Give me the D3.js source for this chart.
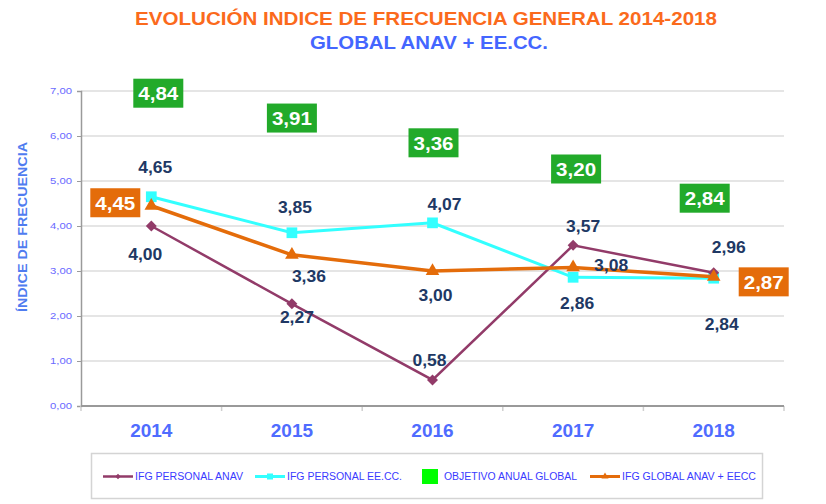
<!DOCTYPE html>
<html>
<head>
<meta charset="utf-8">
<script src="https://cdn.jsdelivr.net/npm/d3@7"></script>
<style>
  html, body { margin: 0; padding: 0; background: #fff; }
  svg { display: block; font-family: "Liberation Sans", Arial, sans-serif; }
</style>
</head>
<body>
<svg id="chart" width="826" height="504"></svg>
<script>
// ── Data ────────────────────────────────────────────────────────────────
const years      = ['2014', '2015', '2016', '2017', '2018'];
const anav       = [4.00, 2.27, 0.58, 3.57, 2.96];   // IFG PERSONAL ANAV
const eecc       = [4.65, 3.85, 4.07, 2.86, 2.84];   // IFG PERSONAL EE.CC.
const objetivo   = [4.84, 3.91, 3.36, 3.20, 2.84];   // OBJETIVO ANUAL GLOBAL
const global     = [4.45, 3.36, 3.00, 3.08, 2.87];   // IFG GLOBAL ANAV + EECC
const yTicks     = [0, 1, 2, 3, 4, 5, 6, 7];
const legendNames = ['IFG PERSONAL ANAV', 'IFG PERSONAL EE.CC.', 'OBJETIVO ANUAL GLOBAL', 'IFG GLOBAL ANAV + EECC'];

// label placement (px offsets from the point); boxed = label drawn in a filled box
const anavLbl    = [[-6, 28], [5, 13], [-3, -20], [10, -19], [15, -26]];
const eeccLbl    = [[4, -30], [3, -26], [12, -19], [4, 26], [8, 46]];
const globalLbl  = [[-36, -3], [17, 21], [3, 24], [38, -2], [50, 5]];
const globalBox  = [true, false, false, false, true];
const objLbl     = [[7, -95], [0, -112], [1, -112], [3, -93], [-9, -80]];

const fmt = v => v.toFixed(2).replace('.', ',');

const svg = d3.select('#chart');
const x = d3.scaleBand().domain(years).range([81, 784]);
const y = d3.scaleLinear().domain([0, 7]).range([406, 91]);
const cx = d => x(d) + x.bandwidth() / 2;

// ── Titles ──────────────────────────────────────────────────────────────
svg.append('text').attr('x', 426).attr('y', 25).attr('text-anchor', 'middle')
  .attr('font-size', 19).attr('font-weight', 'bold').attr('fill', '#fb6a1c')
  .attr('textLength', 582).attr('lengthAdjust', 'spacingAndGlyphs')
  .text('EVOLUCIÓN INDICE DE FRECUENCIA GENERAL 2014-2018');
svg.append('text').attr('x', 429).attr('y', 49).attr('text-anchor', 'middle')
  .attr('font-size', 18).attr('font-weight', 'bold').attr('fill', '#4466ff')
  .attr('textLength', 238).attr('lengthAdjust', 'spacingAndGlyphs')
  .text('GLOBAL ANAV + EE.CC.');

// ── Grid & axes ─────────────────────────────────────────────────────────
svg.append('g').selectAll('line').data(yTicks.slice(1)).join('line')
  .attr('x1', 81).attr('x2', 784)
  .attr('y1', d => y(d)).attr('y2', d => y(d))
  .attr('stroke', '#dcdcdc').attr('stroke-width', 1.5);

const yAxis = svg.append('g').attr('transform', 'translate(81,0)')
  .call(d3.axisLeft(y).tickValues(yTicks).tickSize(4).tickPadding(5).tickFormat(fmt));
yAxis.select('.domain').attr('stroke', '#9a9a9a').attr('stroke-width', 1.5);
yAxis.selectAll('.tick line').attr('stroke', '#9a9a9a');
yAxis.selectAll('.tick text').attr('font-size', 9).attr('fill', '#6a6aff')
  .attr('font-family', '"Liberation Sans", Arial, sans-serif')
  .attr('textLength', 22).attr('lengthAdjust', 'spacingAndGlyphs');

svg.append('g').selectAll('line').data(years.concat(['end'])).join('line')
  .attr('x1', (d, i) => 81 + i * x.bandwidth()).attr('x2', (d, i) => 81 + i * x.bandwidth())
  .attr('y1', 406).attr('y2', 411)
  .attr('stroke', '#cfcfcf').attr('stroke-width', 1.5);
svg.append('line').attr('x1', 81).attr('x2', 784).attr('y1', 406).attr('y2', 406)
  .attr('stroke', '#999').attr('stroke-width', 2);

svg.append('g').selectAll('text').data(years).join('text')
  .attr('x', d => cx(d)).attr('y', 437).attr('text-anchor', 'middle')
  .attr('font-size', 19).attr('font-weight', 'bold').attr('fill', '#4f6cff')
  .text(d => d);

svg.append('text')
  .attr('transform', 'translate(27,227) rotate(-90)').attr('text-anchor', 'middle')
  .attr('font-size', 12).attr('font-weight', 'bold').attr('fill', '#4f7cf0')
  .attr('textLength', 170).attr('lengthAdjust', 'spacingAndGlyphs')
  .text('ÍNDICE DE FRECUENCIA');

// ── Series ──────────────────────────────────────────────────────────────
const line = d3.line().x((d, i) => cx(years[i])).y(d => y(d));

const markers = {
  diamond:  g => g.attr('d', d3.symbol().type(d3.symbolSquare).size(60)).attr('rot', 45),
  square:   g => g.attr('d', d3.symbol().type(d3.symbolSquare).size(115)),
  triangle: g => g.attr('d', d3.symbol().type(d3.symbolTriangle).size(80)),
};

function drawSeries(values, color, width, mk) {
  const g = svg.append('g');
  g.append('path').datum(values).attr('d', line)
    .attr('fill', 'none').attr('stroke', color).attr('stroke-width', width);
  g.selectAll('path.m').data(values).join('path').attr('class', 'm')
    .call(markers[mk])
    .attr('transform', (d, i) => `translate(${cx(years[i])},${y(d)})` + (mk === 'diamond' ? ' rotate(45)' : ''))
    .attr('fill', color);
}

drawSeries(eecc, '#33ffff', 3, 'square');
drawSeries(anav, '#923b69', 2.5, 'diamond');
drawSeries(global, '#e46c0a', 3.5, 'triangle');

// ── Labels ──────────────────────────────────────────────────────────────
function plainLabels(values, offs, keep) {
  const items = values.map((v, i) => ({ v, i })).filter(d => !keep || keep(d.i));
  svg.append('g').selectAll('text').data(items).join('text')
    .attr('x', d => cx(years[d.i]) + offs[d.i][0])
    .attr('y', d => y(d.v) + offs[d.i][1] + 6)
    .attr('text-anchor', 'middle')
    .attr('font-size', 16).attr('font-weight', 'bold').attr('fill', '#203864')
    .attr('textLength', 34).attr('lengthAdjust', 'spacingAndGlyphs')
    .text(d => fmt(d.v));
}

function boxLabels(values, offs, fill, keep) {
  const items = values.map((v, i) => ({ v, i })).filter(d => !keep || keep(d.i));
  const g = svg.append('g').selectAll('g').data(items).join('g')
    .attr('transform', d => `translate(${cx(years[d.i]) + offs[d.i][0]},${y(d.v) + offs[d.i][1]})`);
  g.append('rect').attr('x', -25).attr('y', -14.5).attr('width', 50).attr('height', 29)
    .attr('fill', fill);
  g.append('text').attr('y', 7).attr('text-anchor', 'middle')
    .attr('font-size', 19).attr('font-weight', 'bold').attr('fill', '#fff')
    .attr('textLength', 40).attr('lengthAdjust', 'spacingAndGlyphs')
    .text(d => fmt(d.v));
}

plainLabels(anav, anavLbl);
plainLabels(eecc, eeccLbl);
plainLabels(global, globalLbl, i => !globalBox[i]);
boxLabels(global, globalLbl, '#e46c0a', i => globalBox[i]);
boxLabels(objetivo, objLbl, '#22aa2a');

// ── Legend ──────────────────────────────────────────────────────────────
svg.append('rect').attr('x', 91.5).attr('y', 453.5).attr('width', 671).attr('height', 45)
  .attr('fill', '#fff').attr('stroke', '#d4d4d4').attr('stroke-width', 1.5);

const legendItems = [
  { name: legendNames[0], color: '#923b69', mk: 'diamond', x: 103, tx: 135, tl: 108, w: 2.5 },
  { name: legendNames[1], color: '#33ffff', mk: 'square',  x: 255, tx: 287, tl: 115, w: 3 },
  { name: legendNames[2], color: '#00ff00', mk: 'box',     x: 422, tx: 444, tl: 133 },
  { name: legendNames[3], color: '#e46c0a', mk: 'triangle', x: 590, tx: 622, tl: 134, w: 3 },
];
const lg = svg.append('g').selectAll('g').data(legendItems).join('g');
lg.each(function (d) {
  const g = d3.select(this);
  if (d.mk === 'box') {
    g.append('rect').attr('x', d.x).attr('y', 469).attr('width', 16).attr('height', 15).attr('fill', d.color);
  } else {
    g.append('line').attr('x1', d.x).attr('x2', d.x + 30).attr('y1', 476.5).attr('y2', 476.5)
      .attr('stroke', d.color).attr('stroke-width', d.w);
    const sz = d.mk === 'diamond' ? 14 : d.mk === 'square' ? 36 : 22;
    g.append('path')
      .attr('d', d3.symbol().type(d.mk === 'triangle' ? d3.symbolTriangle : d3.symbolSquare).size(sz))
      .attr('transform', `translate(${d.x + 15},476.5)` + (d.mk === 'diamond' ? ' rotate(45)' : ''))
      .attr('fill', d.color);
  }
  g.append('text').attr('x', d.tx).attr('y', 480)
    .attr('font-size', 10).attr('fill', '#3a3aff')
    .attr('textLength', d.tl).attr('lengthAdjust', 'spacingAndGlyphs')
    .text(d.name);
});
</script>
</body>
</html>
